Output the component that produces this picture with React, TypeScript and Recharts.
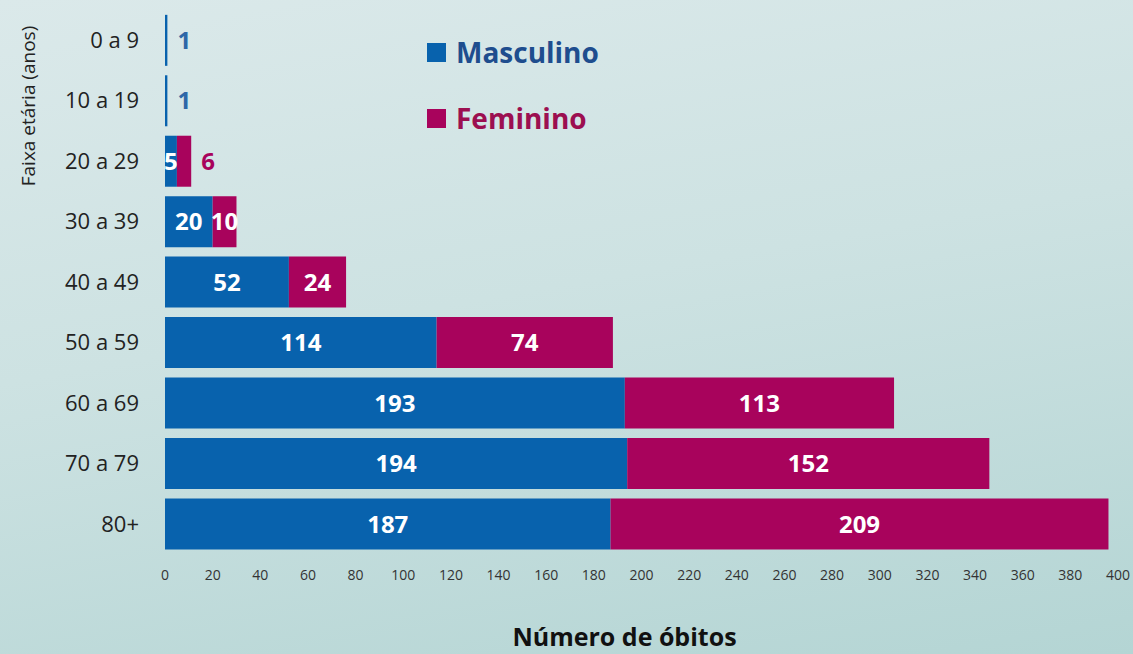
import React from 'react';
import { BarChart, Bar, XAxis, YAxis, LabelList } from 'recharts';

const faixas = ['0 a 9', '10 a 19', '20 a 29', '30 a 39', '40 a 49', '50 a 59', '60 a 69', '70 a 79', '80+'];
const masculino = [1, 1, 5, 20, 52, 114, 193, 194, 187];
const feminino = [0, 0, 6, 10, 24, 74, 113, 152, 209];
const xTicks = [0, 20, 40, 60, 80, 100, 120, 140, 160, 180, 200, 220, 240, 260, 280, 300, 320, 340, 360, 380, 400];

const BLUE = '#0862ad';
const MAGENTA = '#a8035c';
const FONT = '"Open Sans", Lato, sans-serif';

const data = faixas.map((f, i) => ({
  faixa: f,
  masculino: masculino[i],
  feminino: feminino[i] || null,
}));

// small bars get their number outside, in the series colour
const makeLabel = (color: string, minInside: number) => (props: any) => {
  const { x, y, width, height, value } = props;
  if (value == null || value === 0) return null;
  const inside = value >= minInside;
  return (
    <text
      x={inside ? x + width / 2 : x + width + 10}
      y={y + height / 2}
      dy="0.36em"
      textAnchor={inside ? 'middle' : 'start'}
      fill={inside ? '#ffffff' : color === BLUE ? '#2e67a8' : MAGENTA}
      fontFamily={FONT}
      fontWeight={700}
      fontSize={24}
    >
      {value}
    </text>
  );
};

const LegendBox = () => (
  <div
    style={{
      position: 'absolute',
      left: 427,
      top: 32,
      fontFamily: FONT,
      fontWeight: 700,
      fontSize: 28,
    }}
  >
    <div style={{ display: 'flex', alignItems: 'center', height: 40, color: '#1e4d8e' }}>
      <span style={{ width: 19, height: 19, background: BLUE, marginRight: 10, display: 'inline-block' }} />
      Masculino
    </div>
    <div style={{ display: 'flex', alignItems: 'center', height: 40, marginTop: 26, color: '#9c0f50' }}>
      <span style={{ width: 19, height: 19, background: MAGENTA, marginRight: 10, display: 'inline-block' }} />
      Feminino
    </div>
  </div>
);

const YTitle = () => (
  <text
    transform="translate(28, 106) rotate(-90)"
    textAnchor="middle"
    dy="0.36em"
    fontFamily={FONT}
    fontSize={19}
    fill="#222"
  >
    Faixa etária (anos)
  </text>
);

export default function App() {
  return (
    <div
      style={{
        position: 'absolute',
        left: 0,
        top: 0,
        width: 1133,
        height: 654,
        background: 'linear-gradient(170deg, #dbe9ea 0%, #cde2e2 45%, #b4d5d4 100%)',
      }}
    >
      <BarChart
        width={1133}
        height={654}
        data={data}
        layout="vertical"
        margin={{ top: 10, right: 15, bottom: 0, left: 0 }}
        barCategoryGap="8%"
      >
        <XAxis
          type="number"
          domain={[0, 400]}
          ticks={xTicks}
          interval={0}
          axisLine={false}
          tickLine={false}
          tickSize={0}
          tickMargin={16}
          height={100}
          tick={{ fontSize: 14, fill: '#333', fontFamily: FONT }}
          label={{
            value: 'Número de óbitos',
            position: 'insideBottom',
            offset: 8,
            dx: -17,
            style: { fontSize: 25, fontWeight: 700, fill: '#111', fontFamily: FONT },
          }}
        />
        <YAxis
          type="category"
          dataKey="faixa"
          width={165}
          axisLine={false}
          tickLine={false}
          tickSize={0}
          tickMargin={26}
          tick={{ fontSize: 22, fill: '#222', fontFamily: FONT }}
          label={<YTitle />}
        />
        <Bar dataKey="masculino" stackId="a" fill={BLUE} isAnimationActive={false}>
          <LabelList dataKey="masculino" content={makeLabel(BLUE, 3)} />
        </Bar>
        <Bar dataKey="feminino" stackId="a" fill={MAGENTA} isAnimationActive={false}>
          <LabelList dataKey="feminino" content={makeLabel(MAGENTA, 10)} />
        </Bar>
      </BarChart>
      <LegendBox />
    </div>
  );
}
